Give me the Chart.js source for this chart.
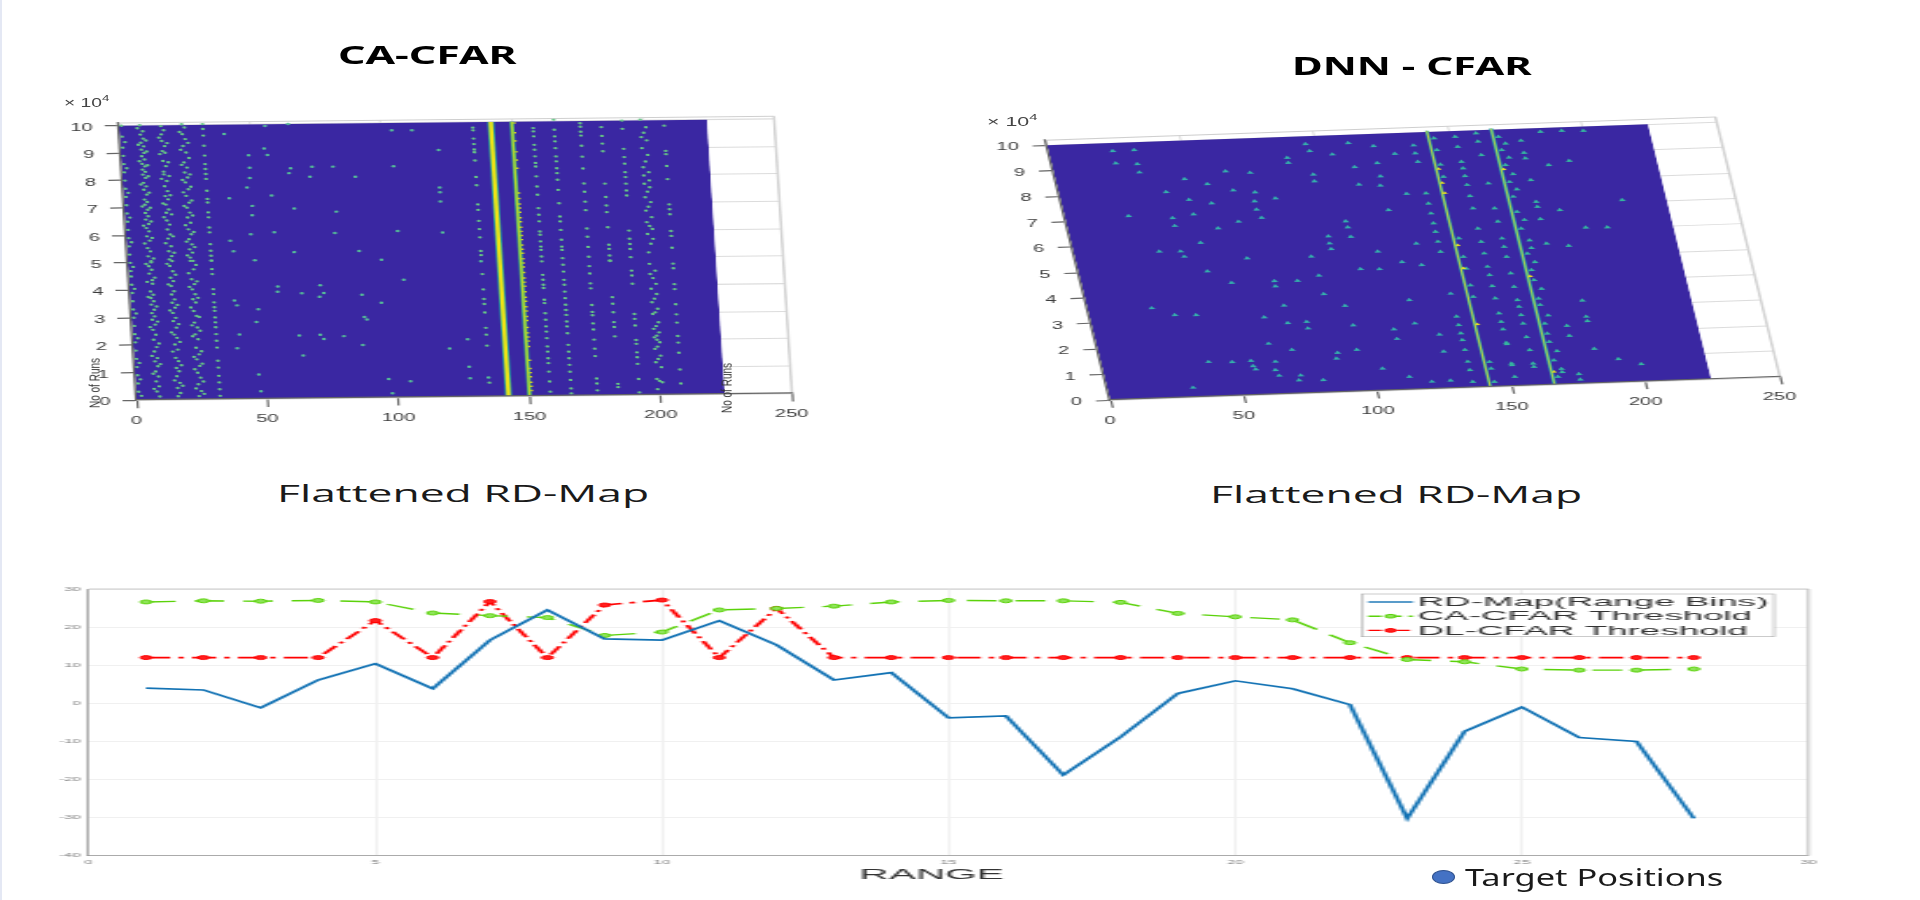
<!DOCTYPE html>
<html><head><meta charset="utf-8">
<script src="https://cdn.jsdelivr.net/npm/chart.js@4"></script>
<style>
html,body{margin:0;padding:0;background:#fff;width:1920px;height:900px;overflow:hidden}
#strip{position:absolute;left:0;top:0;width:2px;height:900px;background:#e4e8f4}
canvas{position:absolute;transform-origin:0 0;display:block}
.t{position:absolute;white-space:nowrap;transform-origin:0 50%;line-height:1;color:#000}
.h{font-family:"Noto Sans";font-weight:700;font-size:25px}
.s{font-family:"Open Sans";font-size:24px;color:#1a1a1a}
.m{font-family:"Liberation Sans";font-size:13px;color:#444}
.m sup{font-size:9px;vertical-align:6px;line-height:0}
.r{position:absolute;white-space:nowrap;font-family:"Liberation Sans";font-size:10px;color:#333;line-height:1}
#dot{position:absolute;left:1432px;top:870px;width:23px;height:14px;border-radius:50%;background:#4472c4;box-sizing:border-box;border:1px solid #2f528f}
</style></head><body>
<div id="strip"></div>
<canvas id="caChart" width="549" height="470" style="left:0;top:0"></canvas>
<canvas id="dnnChart" width="549" height="470" style="left:960px;top:0"></canvas>
<canvas id="mapChart" width="711" height="330" style="left:0;top:570px"></canvas>
<div class="t h" data-x="338" data-y="54" data-w="178">CA-CFAR</div>
<div class="t h" data-x="1292" data-y="65" data-w="240">DNN - CFAR</div>
<div class="t s" data-x="277" data-y="493" data-w="372">Flattened RD-Map</div>
<div class="t s" data-x="1210" data-y="494" data-w="372">Flattened RD-Map</div>
<div class="t m" data-x="64" data-y="102" data-w="46">× 10<sup>4</sup></div>
<div class="t m" data-x="987" data-y="121" data-w="51">× 10<sup>4</sup></div>
<div class="r" style="left:95px;top:383px;transform:translate(-50%,-50%) rotate(-90deg) scaleY(1.4)">No of Runs</div>
<div class="r" style="left:727px;top:388px;transform:translate(-50%,-50%) rotate(-90deg) scaleY(1.4)">No of Runs</div>
<div id="dot"></div>
<div class="t s" style="font-family:'Noto Sans'" data-x="1465" data-y="877" data-w="258">Target Positions</div>
<script>
// ---------- tick labels ----------
const rangeTicks3d=[0,50,100,150,200,250];
const runsTicks=[0,1,2,3,4,5,6,7,8,9,10];
const mapRangeTicks=[0,5,10,15,20,25,30];
const mapLevelTicks=[-40,-30,-20,-10,0,10,20,30];

// ---------- CA-CFAR panel (range bin, runs x 10^4) ----------
const caStrongBins=[142,150];
const caMapEnd=[0,224.5];
const caBin1=[10,9.6,9.2,8.9,8.6,8.3,8,7.7,7.4,7.1,6.8,6.5,6.2,5.9,5.6,5.3,5,4.7,4.5,4.2,3.9,3.6,3.3,3,2.7,2.4,2.1,1.8,1.5,1.2,.9,.6,.3];
const caBin2=[9.4,8.45,7.55,6.65,5.75,4.85,4.05,3.15,2.25,1.35,.75,.15];
const caBin7=[9.9,9.3,8.7,7.85,7.05,6.35,5.7,4.95,4.3,3.75,2.65,1.6,.95,.4];
const caBin8=[10.01,9.67,9.37,9.12,8.88,8.6,8.39,8.21,7.91,7.66,7.3,7.11,6.81,6.57,6.26,5.96,5.53,5.23,4.87,4.6,3.95,3.71,3.47,3.16,2.92,2.55,2.19,1.76,1.4,1.03,.67,.3];
const caBin9=[9.79,9.52,9.24,9,8.76,8.51,8.31,8.09,7.78,7.48,7.21,6.93,6.69,6.41,6.14,5.8,5.41,5.05,5.01,4.74,4.36,4.23,3.83,3.59,3.28,3.04,2.74,2.37,1.92,1.52,1.22,.85,.49,.12];
const caBin10=[9.45,9.05,8.55,8.15,7.55,7,6.5,5.9,5.15,4.45,3.4,2.85,2.05,1.3];
const caBin15=[9.55,8.95,8.05,7.15,6.65,5.7,4.95,4.2,3.25,2.45,1.75,.7];
const caBin16=[9.97,9.67,9.43,9.06,8.7,8.31,8.21,7.78,7.42,7.11,6.81,6.53,6.2,5.87,5.41,5.11,4.87,4.44,4.14,3.83,3.53,3.16,2.86,2.37,2.01,1.52,1.15,.85,.42,.12];
const caBin17=[9.82,9.24,9,8.51,7.97,7.6,7.3,6.93,6.38,6.02,5.59,5.23,5.05,4.68,4.32,3.95,3.65,3.35,2.98,2.62,2.25,1.82,1.4,1.03,.61,.24];
const caBin18=[9.35,8.65,8.15,7.45,6.75,5.95,5.35,4.55,3.45,2.75,2.1,1.25,.5];
const caBin23=[9.75,9.1,8.55,8,7.55,7.05,6.35,5.75,5.25,4.6,4.1,3.35,2.7,2.3,1.55,1.1,.4];
const caBin24=[10.03,9.67,9.24,8.64,8.27,7.91,7.42,6.99,6.63,6.2,5.84,5.47,5.17,5.05,4.38,4.01,3.65,3.22,2.8,2.37,1.88,1.46,.97,.55,.12];
const caBin25=[9.91,9.49,9,8.45,8.09,7.66,7.17,6.81,6.44,6.02,5.65,5.35,5.05,4.74,4.2,3.83,3.53,3.04,2.62,2.19,1.64,1.22,.79,.3];
const caBin26=[9.35,8.8,8.2,7.75,7.25,6.7,6.1,5.55,4.9,4.3,3.7,3,2.5,1.75,1.3,.65,.2];
const caBin32=[10.03,9.85,9.61,9.24,8.88,8.57,8.39,8.21,8.03,7.6,7.3,7.17,6.81,6.63,6.26,6.08,5.65,5.41,5.23,5.05,5.05,4.74,4.56,4.01,3.83,3.53,3.35,3.22,2.98,2.8,2.62,2.37,2.13,1.88,1.4,1.15,.85,.61,.36,.12];
const caBin135=[9.8,9.7,9.4,9.2,9,8.9,8.6,8,7.7,7,6.8,6.4,6.1,5.8,5.3,5.15,4.46,3.9,3.55,3.37,3.06,2.5,2.25,1.85,.5];
const caBin158=[9.76,9.64,9.46,9.15,8.97,8.73,8.49,8.36,8,7.63,7.33,6.84,6.6,6.36,5.99,5.87,5.63,5.44,5.32,5.08,4.9,4.41,4.23,4.05,3.93,3.5,3.38,3.01,2.77,2.53,2.34,2.1,1.8,1.61,1.37,1.19,.88,.52,.15];
const caBin166=[10.06,9.69,9.45,9.27,9.02,8.72,8.54,8.29,8.11,7.87,7.5,7.01,6.53,6.35,6.04,5.68,5.43,5.31,5.01,4.77,4.52,4.22,4.04,3.79,3.55,3.31,3.12,2.94,2.7,2.52,2.27,1.85,1.6,1.36,1.12,.87,.57,.26,.08];
const caBin176=[9.92,9.79,9.61,9.47,9.1,8.7,8.27,7.72,7.42,7.06,6.75,6.08,5.78,5.41,5.05,4.71,4.44,4.08,3.9,3.29,3.04,2.92,2.62,2.4,2.03,1.7,1.43,.61,.43,.18];
const caBin184=[9.77,9.45,9.17,8.89,7.71,7.22,6.91,6.67,6.12,5.48,5.33,5.09,4.91,4.89,3.57,3.33,3.02,2.66,2.48,2.14,.41,.29];
const caBin192=[10,9.7,8.97,8.67,8.43,8.12,7.94,7.7,7.45,7.27,5.99,5.69,5.5,5.32,5.02,4.53,4.35,4.05,2.95,2.77,2.53,2,1.86,1.55,1.37,1.13,.58,.09];
const caBin199=[10.03,9.39,8.99,8.29,7.99,7.69,7.2,6.71,6.29,5.86,5.19,4.77,4.4,3.86,3.37,2.94,2.4,2.09,1.67,1.18,.57,.2];
const caBin200=[9.55,8.5,7.4,6.85,6.15,5.5,4.25,3.5,3,2.5,2.15,2,1.75,1.3,.5];
const caBin201=[9.75,9.27,8.74,8.11,7.81,7.56,7.02,6.47,6.04,5.68,4.52,4.04,3.67,3.13,2.64,2.27,1.91,1.42,1,.45];
const caBin208=[9.8,8.88,8.76,8.33,7.85,6.93,6.75,6.57,5.96,5.78,5.35,4.77,4.6,4.02,3.84,3.29,2.92,2.62,2.13,1.89,1.52,.91,.4];
const caColumns=[[1,caBin1],[2,caBin2],[7,caBin7],[8,caBin8],[9,caBin9],[10,caBin10],[15,caBin15],[16,caBin16],[17,caBin17],[18,caBin18],[23,caBin23],[24,caBin24],[25,caBin25],[26,caBin26],[32,caBin32],[135,caBin135],[158,caBin158],[166,caBin166],[176,caBin176],[184,caBin184],[192,caBin192],[199,caBin199],[200,caBin200],[201,caBin201],[208,caBin208]];
const caEdge151=[9.95,9.6,9.3,8.9,8.6,8.3,7.4,7.2,7,6.85,6.7,6.5,6.35,6.15,6,5.85,5.7,5.5,5.35,5.2,5,4.85,4.7,4.5,4.3,4.15,4,3.8,3.6,3.45,3.25,3.1,2.9,2.75,2.5,2.3,2.15,2,1.8,1.3,1,.85,.7,.5,.35,.2];
const caSparse=[[40,9.66],[55.8,9.94],[64.6,10],[104,9.73],[111.7,9.73],[121.4,9],[54.9,9.12],[56,8.88],[48.8,8.88],[48.9,8.42],[48.7,8.05],[64.5,8.39],[63.8,8.21],[72.7,8.43],[71.7,8.07],[80.7,8.43],[89,8.05],[103.8,8.42],[47.4,7.7],[56.6,7.4],[40.4,7.32],[49,7.03],[48.7,6.69],[64.9,6.92],[80.9,6.79],[120.9,7.63],[120.9,7.46],[120.8,7.12],[47.7,6],[56.7,6.06],[79.8,6.01],[103.8,6.06],[120.9,5.99],[39.7,5.77],[40.7,5.38],[63.8,5.33],[88.6,5.35],[96.9,5.02],[48.6,5.05],[104.9,4.28],[56.7,4.08],[56.5,3.89],[65.7,3.83],[72.9,4.11],[74.1,3.83],[72.4,3.69],[88.6,3.75],[95.8,3.45],[39.8,3.59],[40.7,3.41],[48.7,3.26],[47.7,2.8],[89,2.94],[89.9,2.85],[40.9,2.35],[63.7,2.29],[71.7,2.31],[73,2.15],[80.7,2.25],[87.7,1.92],[39.7,1.85],[64.7,1.56],[120.7,1.76],[127.8,2.09],[127.7,1.09],[127.8,.67],[134.8,.69],[96.7,.67],[105,.58],[97.8,.15],[47.3,.88],[47.7,.27],[134.8,4.93]];

// ---------- DNN-CFAR panel (range bin, runs x 10^4) ----------
const dnnStrongBins=[142,166];
const dnnMapEnd=[0,224.5];
const dnnDetections=[[23.9,9.69],[31.9,9.7],[23.9,9.21],[31.8,9.15],[31.8,8.82],[47.9,8.5],[63.8,8.75],[72.8,8.66],[55.9,8.28],[39.9,8.02],[64.9,8],[72.8,7.89],[47.7,7.69],[55.7,7.52],[71.8,7.54],[71.8,7.22],[79.8,7.63],[23.8,7.14],[39.9,7],[48,7.12],[40,6.69],[55.8,6.54],[64,6.77],[72.9,6.89],[48,6],[31.9,5.71],[39.8,5.69],[40.7,5.48],[63.8,5.33],[47.9,4.88],[55.8,4.4],[71.8,4.41],[71.7,4.2],[80.4,4.39],[88.8,4.56],[87.7,5.31],[95.8,5.58],[95.7,5.8],[95.9,6.08],[104.2,6.03],[103.7,6.64],[103.9,6.4],[112.8,5.42],[120.8,4.98],[127.8,4.83],[111.8,4.73],[104.8,4.76],[88.9,3.84],[73.1,3.44],[95.7,3.35],[23.9,3.52],[31.8,3.22],[39.7,3.19],[64.7,3.01],[72.9,2.76],[80,2.78],[79.9,2.52],[96.9,2.58],[63.9,1.98],[72,1.71],[96,1.62],[111.9,1.99],[111.6,2.37],[119.9,2.57],[120,3.49],[88.6,1.53],[87.7,1.31],[40,1.35],[48.7,1.31],[55.8,1.34],[56.1,1.13],[56.8,1],[64.8,1.27],[64,.94],[64.9,.72],[72.9,.7],[71.8,.51],[80.8,.49],[31.9,.37],[103.8,.86],[113,.5],[120.9,.28],[127.9,.3],[128,1.44],[128,2.1],[135.9,3.68],[95.9,9.7],[96.8,9.42],[87.9,9.19],[87.8,8.99],[104.9,9.26],[111.8,9.68],[120.9,9.53],[128.1,9.2],[120.7,8.86],[112,8.74],[96,8.5],[95.8,8.24],[120.7,8.34],[119.8,7.98],[112,8.05],[128.8,7.63],[120.6,7.02],[127.8,5.68],[135.7,9.19],[135.9,8.86],[135.8,9.5]];
const dnnBin136=[7.62,7.22,6.83,6.44,6.11,5.72,5.32,2.78,2.45,2.12,1.86,1.47,1.01,.68,.22];
const dnnBin144=[9.75,9.29,8.72,8.24,5.82,5.1,4.64,3.98,3.53,.97,.71,.19];
const dnnBin152=[9.78,9.39,8.8,8.54,8.24,7.89,7.45,6.97,6.18,5.66,5.2,4.68,4.35,3.92,3.44,2.85,2.52,2.22,1.69,1.64,.88,.82,.36];
const dnnBin160=[9.89,9.56,9.03,7.92,6.94,6.42,5.76,5.43,5.04,4.39,3.86,3.34,3.08,2.75,2.42,1.89,1.38,.85,.72];
const dnnBin168=[9.72,9.2,8.61,7.95,7.37,6.78,6.12,5.14,4.49,4.1,3.37,3.12,2.39,2,1.67,.95,.3];
const dnnBin170=[9.45,8.9,8.25,7.65,6.45,5.65,5.35,4.8,3.75,2.7,1.3,.6,.48];
const dnnBin176=[9.54,9.06,8.85,7.99,7.14,6.94,6.46,5.5,2.27,1.88,.38,.16];
const dnnBin184=[9.86,8.55,6.79,5.38,3.23,2.6,2.43,1.34];
const dnnBin192=[9.87,8.69,6.07,.91];
const dnnBin200=[9.84,6.05,.68];
const dnnBin208=[7.09];
const dnnColumns=[[136,dnnBin136],[144,dnnBin144],[152,dnnBin152],[160,dnnBin160],[168,dnnBin168],[170,dnnBin170],[176,dnnBin176],[184,dnnBin184],[192,dnnBin192],[200,dnnBin200],[208,dnnBin208]];
const dnnHot143=[8.55,8,7.6,5.55,4.65,2.45];
const dnnHot167=[8.45,4.25,.5];

// ---------- flattened RD-map ----------
const mapRange=[1,2,3,4,5,6,7,8,9,10,11,12,13,14,15,16,17,18,19,20,21,22,23,24,25,26,27,28];
const rdMap=[4,3.5,-1.2,6.1,10.4,3.85,16.6,24.5,16.9,16.6,21.7,15.3,6.1,8.05,-3.8,-3.3,-18.8,-8.8,2.6,5.9,3.8,-.35,-30.2,-7.4,-1,-9,-10,-30.2];
const caThreshold=[26.6,26.9,26.8,27,26.6,23.7,23,22.5,17.8,18.7,24.5,24.9,25.5,26.6,27,26.9,26.9,26.5,23.6,22.7,21.9,15.9,11.5,10.9,9,8.7,8.7,9];
const dlThreshold=[12,12,12,12,21.7,12,26.7,12,25.8,27.1,12,24.9,12,12,12,12,12,12,12,12,12,12,12,12,12,12,12,12];
const seriesNames=['RD-Map(Range Bins)','CA-CFAR Threshold','DL-CFAR Threshold'];

// ---------- drawing ----------
Chart.defaults.font.family='"Liberation Sans"';
const STRETCH3D=1.75, STRETCHMAP=2.7;
const pts=(cols)=>cols.flatMap(([x,ys])=>ys.map(y=>({x,y})));
const pairs=(list)=>list.map(([x,y])=>({x,y}));
const vline=(x,top)=>[{x,y:0},{x,y:top}];

function skewPanel(o){
  const at=(chart,fx,fy)=>({x:o.O[0]+fx*o.X[0]+fy*o.Y[0], y:o.O[1]+fx*o.X[1]+fy*o.Y[1]});
  return {
    id:'skew',
    beforeDraw(chart){
      const {left,right,top,bottom}=chart.chartArea,w=right-left,h=bottom-top,s=STRETCH3D,c=chart.ctx;
      const a=o.X[0]/(w*s),b=o.X[1]/w,cc=-o.Y[0]/(h*s),d=-o.Y[1]/h;
      const e=(o.O[0]-o.off)/s-a*left-cc*bottom, f=o.O[1]-b*left-d*bottom;
      c.save();c.transform(a,b,cc,d,e,f);
    },
    beforeDatasetsDraw(chart){
      const {left,right,top,bottom}=chart.chartArea,c=chart.ctx;
      c.save();c.strokeStyle='#cfcfcf';c.lineWidth=1;c.strokeRect(left,top,right-left,bottom-top);c.restore();
    },
    afterDraw(chart){
      const c=chart.ctx,s=STRETCH3D;
      c.restore();c.save();
      c.font='11.5px "Liberation Sans"';c.fillStyle='#3c3c3c';
      const xs=chart.scales.x,ys=chart.scales.y;
      c.textAlign='center';c.textBaseline='middle';
      xs.ticks.forEach(t=>{const p=at(chart,(xs.getPixelForValue(t.value)-xs.left)/xs.width,0);c.fillText(String(t.value),(p.x-o.off)/s,p.y+20.5);});
      c.textAlign='right';
      ys.ticks.forEach(t=>{const p=at(chart,0,(ys.bottom-ys.getPixelForValue(t.value))/ys.height);c.fillText(String(t.value),(p.x-o.off-o.labelGap)/s,p.y+2);});
      c.restore();
    }
  };
}
function axes3d(xTicks,yTicks,yMax){
  const common={type:'linear',border:{color:'#666',width:1.2,z:1},ticks:{display:false}};
  const grid={color:'#dcdcdc',lineWidth:1,tickColor:'#666',tickWidth:1.2,tickLength:8,drawTicks:true};
  return {
    x:{...common,min:0,max:250,grid,afterBuildTicks(sc){sc.ticks=xTicks.map(value=>({value}));}},
    y:{...common,min:0,max:yMax,grid,afterBuildTicks(sc){sc.ticks=yTicks.map(value=>({value}));}}
  };
}
function stretch(id,k){document.getElementById(id).style.transform='scaleX('+k+')';}
const base={responsive:false,animation:false,events:[],plugins:{legend:{display:false},tooltip:{enabled:false},title:{display:false}}};
const pad={left:70,right:94,top:80,bottom:113};

new Chart(document.getElementById('caChart'),{
  type:'scatter',
  data:{datasets:[
    {data:caEdge151.map(y=>({x:151,y})),pointRadius:1,pointStyle:'rect',pointBackgroundColor:'#d6d820',pointBorderWidth:0},
    {data:vline(caStrongBins[0],10),showLine:true,pointRadius:0,borderColor:'#f0e414',borderWidth:2.4},
    {data:vline(caStrongBins[1],10),showLine:true,pointRadius:0,borderColor:'#b6d82c',borderWidth:1.4},
    {data:vline(caStrongBins[0],10),showLine:true,pointRadius:0,borderColor:'#1fa5a0',borderWidth:4},
    {data:vline(caStrongBins[1],10),showLine:true,pointRadius:0,borderColor:'#2aa78c',borderWidth:2.6},
    {data:pts(caColumns),pointRadius:1.15,pointStyle:'circle',pointBackgroundColor:'#66c586',pointBorderWidth:0},
    {data:pairs(caSparse),pointRadius:1.2,pointStyle:'circle',pointBackgroundColor:'#55bb98',pointBorderWidth:0},
    {data:caMapEnd.map(x=>({x,y:10})),showLine:true,pointRadius:0,borderWidth:0,borderColor:'#3a27a2',backgroundColor:'#3a27a2',fill:'origin'}
  ]},
  options:{...base,layout:{padding:pad},scales:axes3d(rangeTicks3d,runsTicks,10.1)},
  plugins:[skewPanel({O:[136.5,400],X:[655.1,-6.7],Y:[-18,-277],off:0,labelGap:26})]
});
stretch('caChart',STRETCH3D);

new Chart(document.getElementById('dnnChart'),{
  type:'scatter',
  data:{datasets:[
    {data:dnnHot143.map(y=>({x:143,y})),pointRadius:1.8,pointStyle:'triangle',pointBackgroundColor:'#e8e020',pointBorderWidth:0},
    {data:dnnHot167.map(y=>({x:167,y})),pointRadius:1.8,pointStyle:'triangle',pointBackgroundColor:'#e8e020',pointBorderWidth:0},
    {data:vline(dnnStrongBins[0],10.05),showLine:true,pointRadius:0,borderColor:'#e8e020',borderWidth:.8},
    {data:vline(dnnStrongBins[1],10.05),showLine:true,pointRadius:0,borderColor:'#cfe030',borderWidth:.8},
    {data:vline(dnnStrongBins[0],10.05),showLine:true,pointRadius:0,borderColor:'#1fa5b5',borderWidth:2},
    {data:vline(dnnStrongBins[1],10.05),showLine:true,pointRadius:0,borderColor:'#1fa5b5',borderWidth:2.2},
    {data:pts(dnnColumns),pointRadius:2.3,pointStyle:'triangle',pointBackgroundColor:'#35b6a0',pointBorderWidth:0},
    {data:pairs(dnnDetections),pointRadius:2.3,pointStyle:'triangle',pointBackgroundColor:'#35b0ac',pointBorderWidth:0},
    {data:dnnMapEnd.map(x=>({x,y:10})),showLine:true,pointRadius:0,borderWidth:0,borderColor:'#3a27a2',backgroundColor:'#3a27a2',fill:'origin'}
  ]},
  options:{...base,layout:{padding:pad},scales:axes3d(rangeTicks3d,runsTicks,10.2)},
  plugins:[skewPanel({O:[1110,400],X:[669.5,-23.3],Y:[-64.5,-259.8],off:960,labelGap:28})]
});
stretch('dnnChart',STRETCH3D);

const mapDecor={
  id:'mapDecor',
  beforeDatasetsDraw(chart){
    const {left,right,top,bottom}=chart.chartArea,c=chart.ctx;
    c.save();c.strokeStyle='#b5b5b5';c.lineWidth=.7;c.beginPath();c.moveTo(left,top);c.lineTo(right,top);c.lineTo(right,bottom);c.stroke();c.restore();
  },
  afterDraw(chart){
    const c=chart.ctx,k=STRETCHMAP;
    c.save();
    // axis title
    c.font='15px "Liberation Sans"';c.fillStyle='#333';c.textAlign='center';c.textBaseline='middle';
    c.fillText('RANGE',931.5/k,304.5);
    // legend
    const bx=1362/k,bw=412/k,by=24,bh=42.7;
    c.fillStyle='#fff';c.fillRect(bx,by,bw,bh);
    c.strokeStyle='#a8a8a8';c.lineWidth=.6;c.strokeRect(bx,by,bw,bh);
    c.textAlign='left';
    chart.data.datasets.forEach((ds,i)=>{
      const y=32+i*14.2;
      c.strokeStyle=ds.borderColor;c.lineWidth=1.4;c.setLineDash(i===0?[]:(i===1?[5,2.5]:[5,2,1.5,2]));
      c.beginPath();c.moveTo(1368/k,y);c.lineTo(1413/k,y);c.stroke();c.setLineDash([]);
      if(i>0){c.fillStyle=ds.pointBackgroundColor;c.strokeStyle=ds.borderColor;c.lineWidth=1;c.beginPath();c.arc(1390.5/k,y,1.9,0,Math.PI*2);c.fill();c.stroke();}
      c.fillStyle='#333';c.font='13.6px "Liberation Sans"';c.fillText(ds.label,1417.5/k,y+.5);
    });
    c.restore();
  }
};
new Chart(document.getElementById('mapChart'),{
  type:'scatter',
  data:{datasets:[
    {label:seriesNames[0],data:mapRange.map((x,i)=>({x,y:rdMap[i]})),showLine:true,borderColor:'#1272b4',borderWidth:1.7,pointRadius:0,tension:0},
    {label:seriesNames[1],data:mapRange.map((x,i)=>({x,y:caThreshold[i]})),showLine:true,borderColor:'#5bd20a',borderWidth:1.4,borderDash:[11,7],pointRadius:2,pointBorderWidth:1,pointBorderColor:'#5bd20a',pointBackgroundColor:'#8fe45a'},
    {label:seriesNames[2],data:mapRange.map((x,i)=>({x,y:dlThreshold[i]})),showLine:true,borderColor:'#ff0000',borderWidth:1.7,borderDash:[9,3,2,3],pointRadius:2,pointBorderWidth:1,pointBorderColor:'#ff0000',pointBackgroundColor:'#ff2020'}
  ]},
  options:{...base,
    layout:{padding:{left:0,right:41.2,top:19,bottom:0}},
    scales:{
      x:{type:'linear',min:0,max:30,
        border:{color:'#8c8c8c',width:.7,z:1},
        grid:{color:'#dcdcdc',lineWidth:.4,drawTicks:false},
        ticks:{color:'#808080',font:{size:5.5},padding:3,autoSkip:false,maxRotation:0},
        afterBuildTicks(sc){sc.ticks=mapRangeTicks.map(value=>({value}));},
        afterFit(sc){sc.height=44.3;}},
      y:{type:'linear',min:-40,max:30,
        border:{color:'#8c8c8c',width:.7,z:1},
        grid:{color:'#f0f0f0',lineWidth:1,drawTicks:false},
        ticks:{color:'#808080',font:{size:5.5},padding:3,autoSkip:false},
        afterBuildTicks(sc){sc.ticks=mapLevelTicks.map(value=>({value}));},
        afterFit(sc){sc.width=32.85;}}
    }},
  plugins:[mapDecor]
});
stretch('mapChart',STRETCHMAP);

// fit text widths
document.querySelectorAll('.t').forEach(el=>{
  const w=el.offsetWidth,h=el.offsetHeight;
  el.style.left=el.dataset.x+'px';
  el.style.top=(el.dataset.y-h/2)+'px';
  el.style.transform='scaleX('+(el.dataset.w/w)+')';
});
</script>
</body></html>
